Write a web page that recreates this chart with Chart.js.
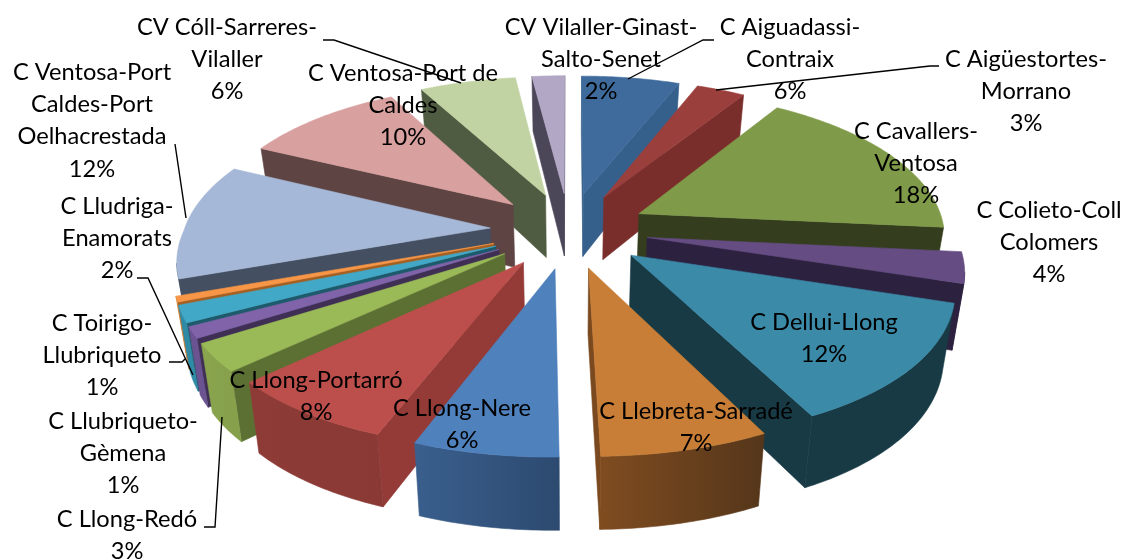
<!DOCTYPE html>
<html>
<head>
<meta charset="utf-8">
<style>
  html, body { margin: 0; padding: 0; background: #fff; }
  canvas { display: block; }
</style>
<script src="https://cdn.jsdelivr.net/npm/chart.js@4"></script>
</head>
<body>
<canvas id="pie" width="1123" height="559"></canvas>
<script>
// Each category is split the way the label wraps in the picture
const categories = [
  ['C Aiguadassi-', 'Contraix'],
  ['C Aigüestortes-', 'Morrano'],
  ['C Cavallers-', 'Ventosa'],
  ['C Colieto-Coll', 'Colomers'],
  ['C Dellui-Llong'],
  ['C Llebreta-Sarradé'],
  ['C Llong-Nere'],
  ['C Llong-Portarró'],
  ['C Llong-Redó'],
  ['C Llubriqueto-', 'Gèmena'],
  ['C Lludriga-', 'Enamorats'],
  ['C Toirigo-', 'Llubriqueto'],
  ['C Ventosa-Port', 'Caldes-Port', 'Oelhacrestada'],
  ['C Ventosa-Port de', 'Caldes'],
  ['CV Cóll-Sarreres-', 'Vilaller'],
  ['CV Vilaller-Ginast-', 'Salto-Senet']
];
// Slice sizes, printed labels kept apart
const values = [6, 3, 17.5, 3.3, 12.9, 7, 6, 7.3, 3, 1.2, 1.8, 0.6, 12.5, 10, 5.9, 2];
const percentLabels = ['6%', '3%', '18%', '4%', '12%', '7%', '6%', '8%', '3%', '1%', '2%', '1%', '12%', '10%', '6%', '2%'];

const topColors = ['#3e6b9c', '#9a3f3c', '#7f9a48', '#654c83', '#3a8aa8', '#c87e36', '#4f81bd', '#bc4f4b',
  '#9aba58', '#8063a8', '#42a8c8', '#f79646', '#a6b8d8', '#d8a09e', '#c1d3a2', '#b3a7c6'];
const radialColors = ['#35608c', '#7a2e2c', '#343e1f', '#2d2140', '#173a45', '#7a491f', '#35557f', '#943b38',
  '#5d7034', '#3f2f55', '#1d5a6c', '#a55f20', '#444f61', '#5e4544', '#505c41', '#4c4659'];
const outerLeftColors = ['#35608c', '#7a2e2c', '#343e1f', '#2d2140', '#173a45', '#7f4c20', '#3a5f8d', '#8e3b37',
  '#8aa54e', '#6b5290', '#2f8aa6', '#c87e36', '#444f61', '#5e4544', '#505c41', '#4c4659'];
const outerRightColors = ['#35608c', '#7a2e2c', '#343e1f', '#2d2140', '#173a45', '#55361a', '#2d4a70', '#8a3935',
  '#86a04b', '#6b5290', '#2f8aa6', '#c87e36', '#444f61', '#5e4544', '#505c41', '#4c4659'];

// Label anchors: centre x, first line y
const labelSpots = [
  [790, 27], [1026, 59], [916, 131], [1049, 210], [824, 322], [696, 411], [462, 408], [316, 380],
  [127, 519], [123, 421], [117, 206], [102, 323], [92, 72], [403, 73], [227, 27], [601, 27]
];
const leaderLines = [
  [[714, 40], [703, 40], [628, 79]],
  [[939, 66], [930, 66], [716, 90]],
  [[323, 40], [334, 40], [461, 83]],
  [[175, 144], [186, 218]],
  [[137, 278], [148, 278], [193, 375]],
  [[169, 362], [182, 362], [185, 359]],
  [[204, 527], [215, 527], [222, 417]]
];

// Camera of the tilted pie
const view = { cx: 569, cy: 230, radius: 306, explode: 79, tilt: 0.478, perspY: 0.0005, perspFront: 0.0006, perspBack: 0.00044 };

function project(u, v, zf) {
  const sx = 1 / (1 - (v > 0 ? view.perspFront : view.perspBack) * v);
  const sy = 1 / (1 - view.perspY * v);
  const depth = 64 + 0.024 * v;
  return {
    x: view.cx + u * sx * (1 - 0.03 * zf),
    y: view.cy + view.tilt * v * sy + zf * depth
  };
}

function tracePath(ctx, pts) {
  ctx.beginPath();
  pts.forEach((p, i) => (i ? ctx.lineTo(p.x, p.y) : ctx.moveTo(p.x, p.y)));
  ctx.closePath();
}

function fillFace(ctx, pts, color) {
  tracePath(ctx, pts);
  ctx.fillStyle = color;
  ctx.strokeStyle = color;
  ctx.lineWidth = 0.6;
  ctx.fill();
  ctx.stroke();
}

function faceVisible(a, b, lift, inner) {
  const ex = b.x - a.x, ey = b.y - a.y;
  const c1 = ex * lift.y - ey * lift.x;
  const c2 = ex * (inner.y - a.y) - ey * (inner.x - a.x);
  return c1 * c2 < 0;
}

// Draws the arcs Chart.js laid out as exploded wedges seen through the camera
const pie3d = {
  id: 'pie3d',
  beforeDatasetDraw(chart) {
    const ctx = chart.ctx;
    const arcs = chart.getDatasetMeta(0).data;
    const order = arcs.map((arc, i) => {
      const a = arc.startAngle + Math.PI / 2;
      const b = arc.endAngle + Math.PI / 2;
      return { i, a, b, mid: (a + b) / 2 };
    }).sort((p, q) => Math.cos(q.mid) - Math.cos(p.mid));

    order.forEach(({ i, a, b, mid }) => {
      const ox = view.explode * Math.sin(mid);
      const oy = -view.explode * Math.cos(mid);
      const at = (phi, r, zf) => project(ox + r * Math.sin(phi), oy - r * Math.cos(phi), zf);
      const steps = Math.max(2, Math.ceil((b - a) / 0.015));
      const rim = [];
      const rimLow = [];
      for (let k = 0; k <= steps; k++) {
        const phi = a + (b - a) * k / steps;
        rim.push(at(phi, view.radius, 0));
        rimLow.push(at(phi, view.radius, 1));
      }
      const tip = at(0, 0, 0);
      const tipLow = at(0, 0, 1);
      const lift = { x: 0, y: tipLow.y - tip.y };
      const inner = at(mid, view.radius * 0.5, 0);

      // radial walls
      [[rim[0], rimLow[0]], [rim[steps], rimLow[steps]]].forEach(([c, cLow]) => {
        if (faceVisible(tip, c, lift, inner)) {
          fillFace(ctx, [tip, c, cLow, tipLow], radialColors[i]);
        }
      });

      // outer wall, only the part facing the viewer
      const top = [];
      const low = [];
      for (let k = 0; k < steps; k++) {
        if (faceVisible(rim[k], rim[k + 1], lift, inner)) {
          if (!top.length) { top.push(rim[k]); low.push(rimLow[k]); }
          top.push(rim[k + 1]);
          low.push(rimLow[k + 1]);
        }
      }
      if (top.length) {
        const xs = top.map(p => p.x);
        const grad = ctx.createLinearGradient(Math.min(...xs), 0, Math.max(...xs), 0);
        grad.addColorStop(0, outerLeftColors[i]);
        grad.addColorStop(1, outerRightColors[i]);
        fillFace(ctx, top.concat(low.reverse()), grad);
      }

      fillFace(ctx, [tip].concat(rim), topColors[i]);
    });
    return false;
  },
  afterDraw(chart) {
    const ctx = chart.ctx;
    ctx.save();
    ctx.strokeStyle = '#000';
    ctx.lineWidth = 1.4;
    leaderLines.forEach(line => {
      ctx.beginPath();
      line.forEach((p, i) => (i ? ctx.lineTo(p[0], p[1]) : ctx.moveTo(p[0], p[1])));
      ctx.stroke();
    });
    ctx.fillStyle = '#000';
    ctx.textAlign = 'center';
    ctx.textBaseline = 'middle';
    ctx.font = '24px Lato';
    const xScale = 0.985;
    categories.forEach((lines, i) => {
      const [x, y] = labelSpots[i];
      const texts = lines.concat(percentLabels[i]);
      texts.forEach((txt, n) => {
        ctx.save();
        ctx.translate(x, y + n * 32.3);
        ctx.scale(xScale, 1);
        ctx.fillText(txt, 0, 0);
        ctx.restore();
      });
    });
    ctx.restore();
  }
};

new Chart(document.getElementById('pie'), {
  type: 'pie',
  data: {
    labels: categories,
    datasets: [{ data: values, backgroundColor: topColors, borderWidth: 0 }]
  },
  options: {
    responsive: false,
    animation: false,
    plugins: { legend: { display: false }, tooltip: { enabled: false } }
  },
  plugins: [pie3d]
});
</script>
</body>
</html>
